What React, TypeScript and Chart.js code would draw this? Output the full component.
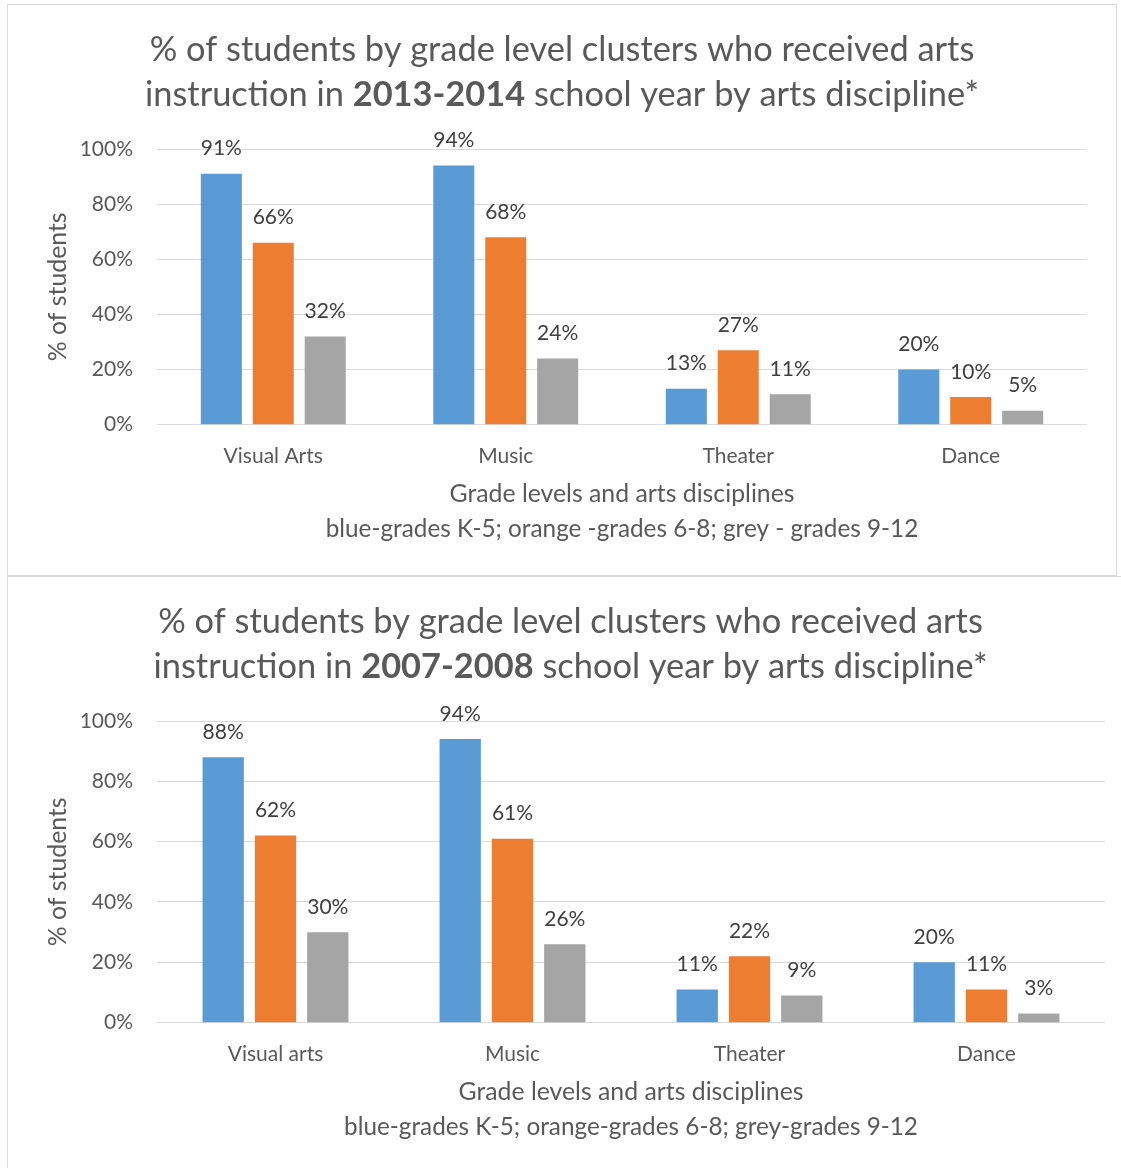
import React, { useEffect, useRef } from 'react';
import { Chart, registerables } from 'chart.js';

Chart.register(...registerables);

const FONT = 'Lato, "Open Sans", sans-serif';
const TEXT = '#595959';
const LABEL = '#404040';
const GRID = '#D9D9D9';

// ---- data ----
const categories2014 = ['Visual Arts', 'Music', 'Theater', 'Dance'];
const k5_2014 = [91, 94, 13, 20];
const g68_2014 = [66, 68, 27, 10];
const g912_2014 = [32, 24, 11, 5];

const categories2008 = ['Visual arts', 'Music', 'Theater', 'Dance'];
const k5_2008 = [88, 94, 11, 20];
const g68_2008 = [62, 61, 22, 11];
const g912_2008 = [30, 26, 9, 3];

const seriesNames = ['Grades K-5', 'Grades 6-8', 'Grades 9-12'];
const seriesColors = ['#5B9BD5', '#ED7D31', '#A5A5A5'];
const yTickValues = [0, 20, 40, 60, 80, 100];

const titleLine1 = '% of students by grade level clusters who received arts';
const titlePre = 'instruction in ';
const titlePost = ' school year by arts discipline*';
const year2014 = '2013-2014';
const year2008 = '2007-2008';
const yTitle = '% of students';
const xTitle = 'Grade levels and arts disciplines';
const key2014 = 'blue-grades K-5; orange -grades 6-8; grey - grades 9-12';
const key2008 = 'blue-grades K-5; orange-grades 6-8; grey-grades 9-12';

// ---- plugins ----
const richTitlePlugin = {
  id: 'richTitle',
  afterDraw(chart: any, _args: any, opts: any) {
    const ctx = chart.ctx;
    ctx.save();
    ctx.fillStyle = opts.color;
    ctx.textBaseline = 'alphabetic';
    ctx.textAlign = 'left';
    const cx = chart.width / 2;
    opts.lines.forEach((segs: any[], i: number) => {
      let total = 0;
      const widths = segs.map((s) => {
        ctx.font = `${s.bold ? 'bold ' : ''}${opts.size}px ${FONT}`;
        const w = ctx.measureText(s.text).width;
        total += w;
        return w;
      });
      let x = cx - total / 2;
      segs.forEach((s, j) => {
        ctx.font = `${s.bold ? 'bold ' : ''}${opts.size}px ${FONT}`;
        ctx.fillText(s.text, x, opts.baselines[i]);
        x += widths[j];
      });
    });
    ctx.restore();
  },
};

const barLabelPlugin = {
  id: 'barLabels',
  afterDatasetsDraw(chart: any, _args: any, opts: any) {
    const ctx = chart.ctx;
    ctx.save();
    ctx.font = `${opts.size}px ${FONT}`;
    ctx.fillStyle = opts.color;
    ctx.textAlign = 'center';
    ctx.textBaseline = 'alphabetic';
    chart.data.datasets.forEach((ds: any, i: number) => {
      const meta = chart.getDatasetMeta(i);
      meta.data.forEach((bar: any, j: number) => {
        ctx.fillText(ds.data[j] + '%', bar.x, bar.y - opts.offset);
      });
    });
    ctx.restore();
  },
};

type Params = {
  categories: string[];
  series: number[][];
  year: string;
  keyText: string;
  width: number;
  height: number;
  padRight: number;
  padTop: number;
  subtitleBottom: number;
  categoryPercentage: number;
};

function makeConfig(p: Params): any {
  return {
    type: 'bar',
    data: {
      labels: p.categories,
      datasets: p.series.map((d, i) => ({
        label: seriesNames[i],
        data: d,
        backgroundColor: seriesColors[i],
        borderWidth: 0,
        categoryPercentage: p.categoryPercentage,
        barPercentage: 0.79,
      })),
    },
    options: {
      animation: false,
      responsive: false,
      devicePixelRatio: 1,
      layout: { padding: { top: p.padTop, left: 0, right: p.padRight, bottom: 0 } },
      scales: {
        x: {
          grid: { display: false, drawTicks: false },
          border: { display: false },
          ticks: { color: TEXT, font: { family: FONT, size: 21 }, padding: 18.5 },
          title: {
            display: true,
            text: xTitle,
            color: TEXT,
            font: { family: FONT, size: 24.8 },
            padding: { top: 0, bottom: 5.7 },
          },
          afterFit: (scale: any) => {
            scale.height = 90;
          },
        },
        y: {
          min: 0,
          max: 100,
          afterBuildTicks: (scale: any) => {
            scale.ticks = yTickValues.map((v) => ({ value: v }));
          },
          ticks: {
            color: TEXT,
            font: { family: FONT, size: 21 },
            padding: 24,
            callback: (v: any) => v + '%',
          },
          grid: { color: GRID, lineWidth: 1, drawTicks: false },
          border: { display: false },
          title: {
            display: true,
            text: yTitle,
            color: TEXT,
            font: { family: FONT, size: 24.8 },
            padding: { top: 35, bottom: 0 },
          },
          afterFit: (scale: any) => {
            scale.width = 149;
          },
        },
      },
      plugins: {
        legend: { display: false },
        tooltip: { enabled: false },
        title: { display: false },
        subtitle: {
          display: true,
          position: 'bottom',
          fullSize: false,
          text: p.keyText,
          color: TEXT,
          font: { family: FONT, size: 24.3 },
          padding: { top: 0, bottom: p.subtitleBottom },
        },
        richTitle: {
          color: TEXT,
          size: 34.4,
          baselines: [56, 101],
          lines: [
            [{ text: titleLine1, bold: false }],
            [
              { text: titlePre, bold: false },
              { text: p.year, bold: true },
              { text: titlePost, bold: false },
            ],
          ],
        },
        barLabels: { color: LABEL, size: 21, offset: 18.5 },
      },
    },
    plugins: [richTitlePlugin, barLabelPlugin],
  };
}

function BarChart({ params }: { params: Params }) {
  const ref = useRef<HTMLCanvasElement | null>(null);
  useEffect(() => {
    if (!ref.current) return;
    const chart = new Chart(ref.current, makeConfig(params));
    return () => chart.destroy();
  }, [params]);
  return (
    <canvas
      ref={ref}
      width={params.width}
      height={params.height}
      style={{ display: 'block', width: params.width, height: params.height }}
    />
  );
}

const topParams: Params = {
  categories: categories2014,
  series: [k5_2014, g68_2014, g912_2014],
  year: year2014,
  keyText: key2014,
  width: 1108,
  height: 570,
  padRight: 29,
  padTop: 144,
  subtitleBottom: 31.2,
  categoryPercentage: 0.67,
};

const bottomParams: Params = {
  categories: categories2008,
  series: [k5_2008, g68_2008, g912_2008],
  year: year2008,
  keyText: key2008,
  width: 1125,
  height: 591,
  padRight: 28,
  padTop: 144,
  subtitleBottom: 26.2,
  categoryPercentage: 0.662,
};

export default function App() {
  return (
    <div
      style={{
        position: 'absolute',
        left: 0,
        top: 0,
        width: 1121,
        height: 1168,
        overflow: 'hidden',
        background: '#fff',
      }}
    >
      <div
        style={{
          position: 'absolute',
          left: 7,
          top: 4,
          width: 1110,
          height: 572,
          boxSizing: 'border-box',
          border: '1px solid #D9D9D9',
        }}
      >
        <BarChart params={topParams} />
      </div>
      <div
        style={{
          position: 'absolute',
          left: 7,
          top: 576,
          width: 1140,
          height: 600,
          boxSizing: 'border-box',
          border: '1px solid #D9D9D9',
        }}
      >
        <BarChart params={bottomParams} />
      </div>
    </div>
  );
}
